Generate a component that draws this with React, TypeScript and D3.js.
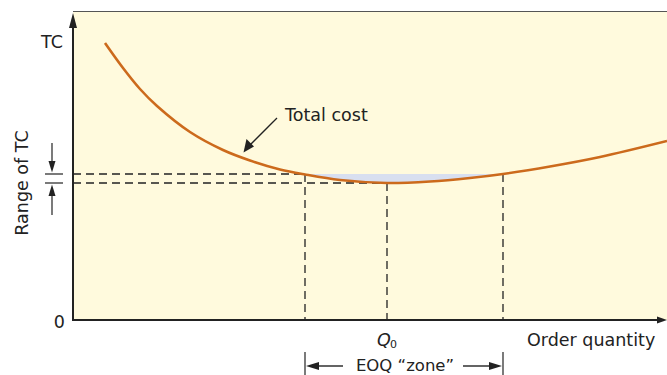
import React from "react";
import * as d3 from "d3";

const quantity = [32, 50, 67, 84, 117, 150, 177, 207, 232, 267, 314, 357, 397, 430, 477, 527, 594];
const totalCost = [277, 252, 231, 214, 188, 170, 159.5, 150.5, 145.5, 140, 137, 138.5, 142, 146, 153.5, 163, 179];
const eoqLow = 232;
const eoqOpt = 314;
const eoqHigh = 430;
const tcHigh = 146;
const tcLow = 137;

const W = 667;
const H = 375;
const FONT = "'DejaVu Sans', sans-serif";

export default function App() {
  const x = d3.scaleLinear().domain([0, 594]).range([73, 667]);
  const y = d3.scaleLinear().domain([0, 309]).range([320, 11]);
  const pts = quantity.map((q, i) => ({ q, c: totalCost[i] }));
  const curve = d3.curveCatmullRom.alpha(0.5);
  const line = d3.line<any>().x(d => x(d.q)).y(d => y(d.c)).curve(curve);
  const area = d3.area<any>().x(d => x(d.q)).y0(y(tcHigh)).y1(d => y(d.c)).curve(curve);
  const dash = "8,5";
  const dark = "#222";
  const axisY = y(0);
  return (
    <svg width={W} height={H} style={{ display: "block", position: "absolute", left: 0, top: 0 }}>
      <defs>
        <clipPath id="zone">
          <rect x={x(eoqLow)} y={0} width={x(eoqHigh) - x(eoqLow)} height={axisY} />
        </clipPath>
      </defs>
      <rect x={0} y={0} width={W} height={H} fill="#fff" />
      <rect x={x(0)} y={y(309)} width={W - x(0)} height={axisY - y(309)} fill="#fffadd" />
      <line x1={x(0)} x2={W} y1={y(309) + 0.5} y2={y(309) + 0.5} stroke="#555" strokeWidth={1} />
      <path d={area(pts) || ""} fill="#d8dff0" clipPath="url(#zone)" />
      {/* dashed guides */}
      <line x1={x(0)} x2={x(eoqLow)} y1={y(tcHigh)} y2={y(tcHigh)} stroke={dark} strokeWidth={1.3} strokeDasharray={dash} />
      <line x1={x(0)} x2={x(eoqOpt)} y1={y(tcLow)} y2={y(tcLow)} stroke={dark} strokeWidth={1.3} strokeDasharray={dash} />
      <line x1={x(eoqLow)} x2={x(eoqLow)} y1={y(tcHigh)} y2={axisY} stroke={dark} strokeWidth={1.3} strokeDasharray={dash} />
      <line x1={x(eoqOpt)} x2={x(eoqOpt)} y1={y(tcLow)} y2={axisY} stroke={dark} strokeWidth={1.3} strokeDasharray={dash} />
      <line x1={x(eoqHigh)} x2={x(eoqHigh)} y1={y(tcHigh)} y2={axisY} stroke={dark} strokeWidth={1.3} strokeDasharray={dash} />
      <path d={line(pts) || ""} fill="none" stroke="#cc6a1c" strokeWidth={2.6} />
      {/* axes */}
      <line x1={x(0)} x2={x(0)} y1={axisY + 1} y2={22} stroke={dark} strokeWidth={2} />
      <path d={`M${x(0)},13 L${x(0) - 4},28 L${x(0) + 4},28 Z`} fill={dark} />
      <line x1={x(0) - 1} x2={W - 6} y1={axisY} y2={axisY} stroke={dark} strokeWidth={2} />
      <path d={`M${W},${axisY} L${W - 10},${axisY - 3.5} L${W - 10},${axisY + 3.5} Z`} fill={dark} />
      {/* axis labels */}
      <text x={63} y={48} textAnchor="end" fontFamily={FONT} fontSize={17.5} fill={dark}>TC</text>
      <text x={65} y={328} textAnchor="end" fontFamily={FONT} fontSize={17.5} fill={dark}>0</text>
      <text x={527} y={346} fontFamily={FONT} fontSize={17.5} fill={dark}>Order quantity</text>
      <text x={377} y={346} fontFamily={FONT} fontSize={17.5} fontStyle="italic" fill={dark}>Q</text>
      <text x={390} y={348} fontFamily={FONT} fontSize={11} fill={dark}>0</text>
      <text transform="translate(28,183) rotate(-90)" textAnchor="middle" fontFamily={FONT} fontSize={17.5} fill={dark}>Range of TC</text>
      {/* range of TC marker */}
      <line x1={45} x2={63} y1={y(tcHigh)} y2={y(tcHigh)} stroke={dark} strokeWidth={1.2} />
      <line x1={45} x2={63} y1={y(tcLow)} y2={y(tcLow)} stroke={dark} strokeWidth={1.2} />
      <line x1={52} x2={52} y1={143} y2={163} stroke={dark} strokeWidth={1.2} />
      <path d={`M52,${y(tcHigh) - 1.5} L48.5,${y(tcHigh) - 13} L55.5,${y(tcHigh) - 13} Z`} fill={dark} />
      <line x1={52} x2={52} y1={y(tcLow) + 12} y2={215} stroke={dark} strokeWidth={1.2} />
      <path d={`M52,${y(tcLow) + 1.5} L48.5,${y(tcLow) + 13} L55.5,${y(tcLow) + 13} Z`} fill={dark} />
      {/* EOQ zone */}
      <line x1={x(eoqLow)} x2={x(eoqLow)} y1={352} y2={375} stroke={dark} strokeWidth={1.2} />
      <line x1={x(eoqHigh)} x2={x(eoqHigh)} y1={352} y2={375} stroke={dark} strokeWidth={1.2} />
      <line x1={x(eoqLow) + 8} x2={343} y1={366} y2={366} stroke={dark} strokeWidth={1.4} />
      <path d={`M${x(eoqLow) + 1},366 L${x(eoqLow) + 14},362 L${x(eoqLow) + 14},370 Z`} fill={dark} />
      <line x1={463} x2={x(eoqHigh) - 8} y1={366} y2={366} stroke={dark} strokeWidth={1.4} />
      <path d={`M${x(eoqHigh) - 1},366 L${x(eoqHigh) - 14},362 L${x(eoqHigh) - 14},370 Z`} fill={dark} />
      <text x={405} y={371} textAnchor="middle" fontFamily={FONT} fontSize={16.5} fill={dark}>EOQ “zone”</text>
      {/* annotation */}
      <text x={285} y={121} fontFamily={FONT} fontSize={17.5} fill={dark}>Total cost</text>
      <line x1={277} x2={250} y1={118} y2={145} stroke={dark} strokeWidth={1.3} />
      <path d={`M243.5,152.5 L246.5,139 L254,146.5 Z`} fill={dark} />
    </svg>
  );
}
